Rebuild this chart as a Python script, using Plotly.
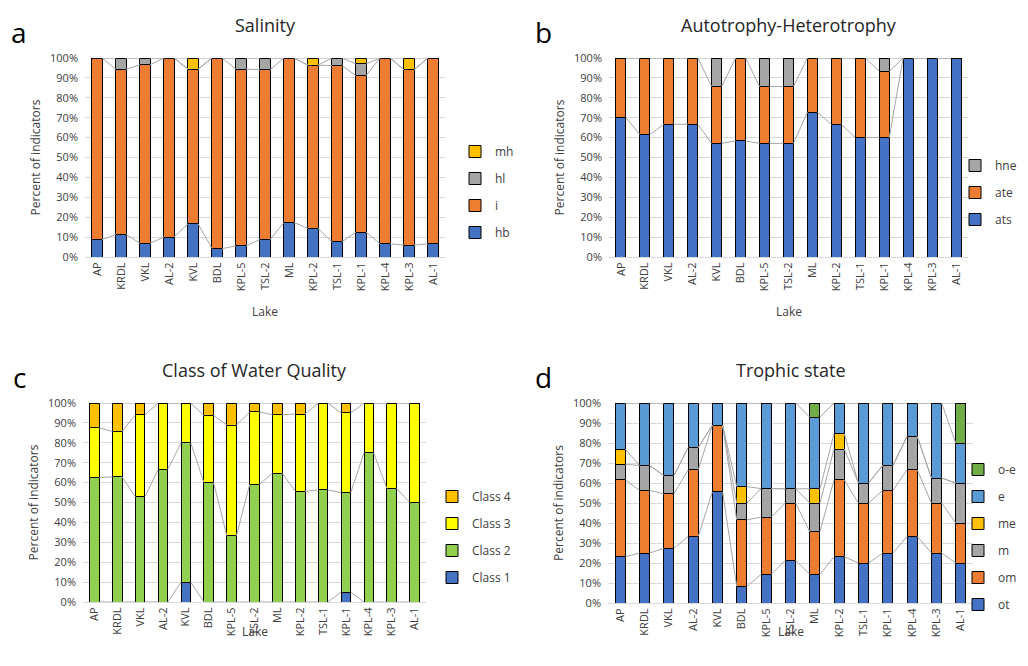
import plotly.graph_objects as go

# The page body has an 8px margin; figure coordinates below are page pixels minus OFF.
OFF = 8
W, H = 1020, 650

lakes = ["AP", "KRDL", "VKL", "AL-2", "KVL", "BDL", "KPL-5", "TSL-2", "ML",
         "KPL-2", "TSL-1", "KPL-1", "KPL-4", "KPL-3", "AL-1"]

# Panel a: Salinity (% of indicators)
sal_hb = [8.7, 11.4, 6.9, 10.0, 16.7, 4.2, 5.6, 8.7, 17.4, 14.3, 7.7, 12.5, 6.7, 5.9, 6.7]
sal_i = [91.3, 82.9, 89.7, 90.0, 77.7, 95.8, 88.8, 85.4, 82.6, 82.1, 88.5, 78.6, 93.3, 88.2, 93.3]
sal_hl = [0, 5.7, 3.4, 0, 0, 0, 5.6, 5.9, 0, 0, 3.8, 5.9, 0, 0, 0]
sal_mh = [0, 0, 0, 0, 5.6, 0, 0, 0, 0, 3.6, 0, 3.0, 0, 5.9, 0]

# Panel b: Autotrophy-Heterotrophy
aut_ats = [70.0, 61.5, 66.7, 66.7, 57.1, 58.3, 57.1, 57.1, 72.7, 66.7, 60.0, 60.0, 100, 100, 100]
aut_ate = [30.0, 38.5, 33.3, 33.3, 28.6, 41.7, 28.6, 28.6, 27.3, 33.3, 40.0, 33.3, 0, 0, 0]
aut_hne = [0, 0, 0, 0, 14.3, 0, 14.3, 14.3, 0, 0, 0, 6.7, 0, 0, 0]

# Panel c: Class of Water Quality
wq_c1 = [0, 0, 0, 0, 10.0, 0, 0, 0, 0, 0, 0, 5.0, 0, 0, 0]
wq_c2 = [62.5, 62.9, 52.9, 66.7, 70.0, 60.0, 33.3, 59.1, 64.7, 55.6, 56.3, 50.0, 75.0, 57.1, 50.0]
wq_c3 = [25.0, 22.8, 41.2, 33.3, 20.0, 33.7, 55.6, 36.4, 29.4, 38.8, 43.7, 40.0, 25.0, 42.9, 50.0]
wq_c4 = [12.5, 14.3, 5.9, 0, 0, 6.3, 11.1, 4.5, 5.9, 5.6, 0, 5.0, 0, 0, 0]

# Panel d: Trophic state
tr_ot = [23.1, 25.0, 27.3, 33.3, 55.6, 8.3, 14.3, 21.4, 14.3, 23.1, 20.0, 25.0, 33.3, 25.0, 20.0]
tr_om = [38.5, 31.3, 27.3, 33.3, 33.3, 33.3, 28.6, 28.6, 21.4, 38.5, 30.0, 31.3, 33.3, 25.0, 20.0]
tr_m = [7.7, 12.5, 9.1, 11.1, 0, 8.3, 14.3, 7.1, 14.3, 15.4, 10.0, 12.5, 16.7, 12.5, 20.0]
tr_me = [7.7, 0, 0, 0, 0, 8.3, 0, 0, 7.1, 7.7, 0, 0, 0, 0, 0]
tr_e = [23.0, 31.2, 36.3, 22.3, 11.1, 41.8, 42.8, 42.9, 35.8, 15.3, 40.0, 31.2, 16.7, 37.5, 20.0]
tr_oe = [0, 0, 0, 0, 0, 0, 0, 0, 7.1, 0, 0, 0, 0, 0, 20.0]

BLUE, ORANGE, GREY, GOLD = "#4472C4", "#ED7D31", "#A5A5A5", "#FFC000"
LBLUE, DGREEN, LGREEN, YELLOW = "#5B9BD5", "#70AD47", "#92D050", "#FFFF00"

FONT = "Open Sans"
BAR_W = 0.42

# page-pixel boxes of plot areas: (x0, x1, ytop, ybottom); legend anchor; "Lake" y; letter x
panels = [
    dict(box=(85, 445, 58, 257), title="Salinity", letter="a", lett_x=19, lake_y=311,
         series=[("hb", sal_hb, BLUE), ("i", sal_i, ORANGE), ("hl", sal_hl, GREY), ("mh", sal_mh, GOLD)],
         leg=(455, 137, "left")),
    dict(box=(609, 968, 58, 257), title="Autotrophy-Heterotrophy", letter="b", lett_x=543, lake_y=311,
         series=[("ats", aut_ats, BLUE), ("ate", aut_ate, ORANGE), ("hne", aut_hne, GREY)],
         leg=(1022, 151, "right")),
    dict(box=(83, 426, 403, 602), title="Class of Water Quality", letter="c", lett_x=19, lake_y=631,
         series=[("Class 1", wq_c1, BLUE), ("Class 2", wq_c2, LGREEN), ("Class 3", wq_c3, YELLOW),
                 ("Class 4", wq_c4, GOLD)],
         leg=(432, 482, "left")),
    dict(box=(608, 973, 403, 603), title="Trophic state", letter="d", lett_x=543, lake_y=631,
         series=[("ot", tr_ot, BLUE), ("om", tr_om, ORANGE), ("m", tr_m, GREY), ("me", tr_me, GOLD),
                 ("e", tr_e, LBLUE), ("o-e", tr_oe, DGREEN)],
         leg=(1022, 455, "right")),
]


def px(x):
    return (x - OFF) / W


def py(y):
    return 1 - (y - OFF) / H


fig = go.Figure()
idx = list(range(len(lakes)))
annotations = []
layout = {}

for p, pan in enumerate(panels):
    s = "" if p == 0 else str(p + 1)
    x0, x1, yt, yb = pan["box"]
    # series lines connecting stacked segment tops between adjacent bars
    cum = [0.0] * len(lakes)
    tops = []
    for name, vals, col in pan["series"]:
        cum = [c + v for c, v in zip(cum, vals)]
        tops.append(list(cum))
    lx, ly = [], []
    for t in tops:
        for i in range(len(lakes) - 1):
            lx += [idx[i] + BAR_W / 2, idx[i + 1] - BAR_W / 2, None]
            ly += [t[i], t[i + 1], None]
    fig.add_trace(go.Scatter(x=lx, y=ly, mode="lines", line=dict(color="#A6A6A6", width=1),
                             showlegend=False, hoverinfo="skip",
                             xaxis="x" + s, yaxis="y" + s))
    nser = len(pan["series"])
    for k, (name, vals, col) in enumerate(pan["series"]):
        fig.add_trace(go.Bar(
            x=idx, y=[v if v else None for v in vals], name=name, width=BAR_W,
            marker=dict(color=col, line=dict(color="#000000", width=1)),
            xaxis="x" + s, yaxis="y" + s, legend="legend" + s,
            legendgroup=f"{p}-{k}", legendrank=100 + nser - k))

    layout["xaxis" + s] = dict(
        domain=[px(x0), px(x1)], anchor="y" + s, range=[-0.5, len(lakes) - 0.5],
        tickvals=idx, ticktext=lakes, tickangle=-90, showgrid=False, zeroline=False,
        showline=True, linecolor="#D9D9D9", linewidth=1, ticks="", automargin=False,
        tickfont=dict(family=FONT, size=11, color="#404040"))
    layout["yaxis" + s] = dict(
        domain=[py(yb), py(yt)], anchor="x" + s, range=[0, 100], dtick=10,
        ticksuffix="%", showgrid=True, gridcolor="#D9D9D9", gridwidth=1, zeroline=False,
        showline=False, ticks="", automargin=False, ticklabelstandoff=6,
        tickfont=dict(family=FONT, size=11, color="#404040"),
        title=dict(text="Percent of indicators", font=dict(family=FONT, size=12, color="#404040"),
                   standoff=6))
    lx0, ly0, anc = pan["leg"]
    layout["legend" + s] = dict(
        x=px(lx0), y=py(ly0), xanchor=anc, yanchor="top",
        traceorder="grouped", tracegroupgap=8, itemwidth=30,
        bgcolor="rgba(0,0,0,0)", font=dict(family=FONT, size=12, color="#404040"))
    cx = (x0 + x1) / 2
    annotations.append(dict(text=pan["title"], x=px(cx), y=py(yt - 33), xref="paper",
                            yref="paper", showarrow=False, xanchor="center", yanchor="middle",
                            font=dict(family=FONT, size=18, color="#262626")))
    annotations.append(dict(text=pan["letter"], x=px(pan["lett_x"]), y=py(yt - 26), xref="paper",
                            yref="paper", showarrow=False, xanchor="center", yanchor="middle",
                            font=dict(family=FONT, size=28, color="#000000")))
    annotations.append(dict(text="Lake", x=px(cx), y=py(pan["lake_y"]), xref="paper",
                            yref="paper", showarrow=False, xanchor="center", yanchor="middle",
                            font=dict(family=FONT, size=12, color="#404040")))

fig.update_layout(
    width=W, height=H, margin=dict(l=0, r=0, t=0, b=0, autoexpand=False),
    paper_bgcolor="white", plot_bgcolor="white",
    barmode="stack", bargap=0.58, annotations=annotations,
    font=dict(family=FONT), **layout)

fig.write_html("out.html")
